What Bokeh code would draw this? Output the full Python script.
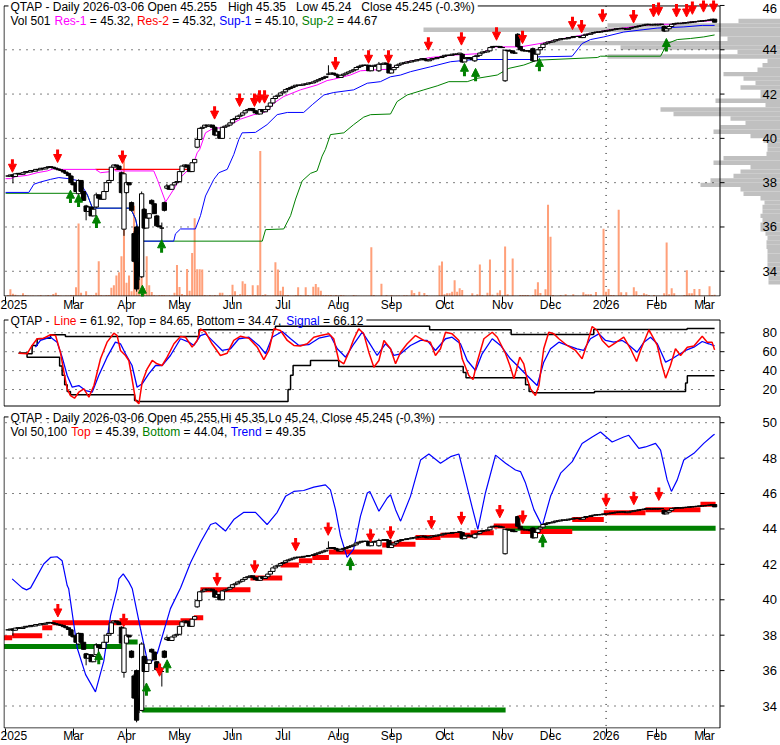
from bokeh.plotting import figure
from bokeh.layouts import column
from bokeh.models import Range1d, FixedTicker, Arrow, NormalHead, ColumnDataSource
from bokeh.core.properties import value
from bokeh.embed import file_html
from bokeh.resources import INLINE

# ======================= DATA =======================
# x = trading-day index, day 0 = first session of March 2025
FIRST_DAY = -26

close = [
    38.30, 38.35, 38.28, 38.40, 38.42, 38.38, 38.45, 38.50, 38.48, 38.55,
    38.52, 38.60, 38.58, 38.65, 38.62, 38.68, 38.72, 38.70, 38.66, 38.62,
    38.58, 38.55, 38.48, 38.42, 38.32, 38.00, 37.90, 37.60, 38.10, 37.60,
    37.20, 36.70, 36.90, 36.50, 36.80, 37.45, 37.30, 37.25, 37.60, 38.00,
    38.10, 38.70, 38.80, 38.75, 38.60, 37.55, 38.40, 38.00, 37.90, 36.75,
    34.45, 33.20, 33.80, 37.50, 35.95, 36.40, 36.60, 37.05, 36.60, 36.05,
    36.00, 35.95, 36.75, 37.85, 37.70, 37.90, 38.00, 38.05, 38.50, 38.75,
    38.80, 38.70, 38.50, 38.90, 39.05, 39.95, 40.45, 40.50, 40.60, 40.55,
    40.60, 40.50, 40.15, 40.30, 40.00, 40.50, 40.55, 40.60, 40.70, 40.85,
    40.90, 41.00, 41.05, 41.15, 41.25, 41.30, 41.35, 41.25, 41.15, 41.10,
    41.30, 41.20, 41.30, 41.45, 41.60, 41.80, 41.90, 41.95, 42.05, 42.10,
    42.20, 42.25, 42.30, 42.35, 42.40, 42.40, 42.40, 42.45, 42.45, 42.50,
    42.50, 42.55, 42.60, 42.65, 42.70, 42.75, 42.80, 42.90, 42.95, 42.90,
    42.85, 42.75, 42.85, 42.90, 42.95, 43.00, 43.05, 43.10, 43.20, 43.25,
    43.30, 43.30, 43.30, 43.05, 43.25, 43.30, 43.30, 43.35, 43.35, 43.40,
    43.35, 42.95, 43.10, 43.20, 43.30, 43.35, 43.40, 43.40, 43.45, 43.45,
    43.50, 43.50, 43.55, 43.55, 43.60, 43.55, 43.50, 43.55, 43.60, 43.60,
    43.65, 43.65, 43.70, 43.75, 43.75, 43.75, 43.80, 43.80, 43.80, 43.85,
    43.45, 43.60, 43.65, 43.60, 43.55, 43.70, 43.75, 43.85, 43.90, 43.90,
    43.95, 44.10, 44.15, 44.15, 44.15, 44.10, 44.10, 43.98, 43.95, 43.95,
    43.85, 43.85, 44.15, 44.00, 43.95, 43.95, 43.95, 43.90, 43.50, 43.80,
    44.00, 44.10, 44.25, 44.30, 44.35, 44.35, 44.40, 44.45, 44.45, 44.50,
    44.50, 44.50, 44.55, 44.55, 44.60, 44.60, 44.60, 44.55, 44.65, 44.70,
    44.70, 44.75, 44.78, 44.80, 44.80, 44.82, 44.85, 44.85, 44.88, 44.90,
    44.92, 44.95, 44.95, 44.97, 44.95, 44.92, 44.97, 45.00, 45.02, 45.05,
    45.08, 45.10, 45.12, 45.15, 45.13, 45.12, 45.15, 45.12, 45.15, 45.15,
    44.85, 44.95, 45.05, 45.15, 45.18, 45.20, 45.18, 45.20, 45.22, 45.22,
    45.25, 45.25, 45.27, 45.28, 45.30, 45.30, 45.32, 45.33, 45.35, 45.38,
    45.245,
]

# candles whose open / high / low differ visibly: (day, open, high, low)
candle_fix = [
    (-24, 38.35, 38.40, 37.97), (-1, 38.30, 38.35, 37.90), (2, 37.50, 38.15, 37.45),
    (5, 36.95, 37.00, 36.30), (9, 36.90, 37.55, 36.85), (19, 38.45, 38.50, 37.50),
    (20, 35.90, 38.45, 35.60), (21, 37.55, 38.05, 37.50), (23, 37.10, 37.15, 36.70),
    (24, 35.70, 35.80, 34.40), (25, 36.00, 36.06, 33.08), (26, 34.40, 34.60, 33.60),
    (27, 33.75, 37.60, 33.70), (28, 36.80, 36.85, 35.90), (31, 37.20, 37.25, 37.00),
    (33, 36.50, 36.55, 36.00), (35, 35.95, 36.20, 35.10), (36, 37.10, 37.15, 36.70),
    (37, 37.75, 37.95, 37.70), (49, 39.60, 40.05, 39.55), (56, 40.50, 40.55, 40.10),
    (101, 42.90, 43.30, 42.85), (121, 43.05, 43.45, 43.00), (154, 43.80, 43.85, 43.40),
    (159, 43.50, 43.75, 43.45), (171, 42.60, 44.00, 42.55), (176, 44.70, 44.75, 44.10),
    (182, 44.05, 44.10, 43.45), (234, 45.05, 45.10, 44.80),
]

# daily volume, hundreds of shares
volume = [
    400, 2700, 900, 500, 200, 200, 1100, 400, 200, 200,
    200, 120, 200, 400, 120, 200, 400, 200, 800, 1300,
    400, 200, 120, 200, 200, 400, 400, 3500, 29200, 1300,
    200, 1900, 400, 400, 400, 1300, 14000, 400, 200, 400,
    400, 3300, 4300, 8300, 9600, 16000, 56300, 5300, 8300, 1900,
    36300, 28000, 6900, 12000, 3200, 16000, 4300, 1600, 400, 200,
    400, 400, 400, 200, 300, 200, 1300, 12500, 3600, 800,
    400, 10900, 2100, 17300, 31300, 10800, 10800, 10700, 400, 200,
    400, 200, 400, 200, 1300, 1300, 200, 200, 400, 4500,
    1900, 400, 700, 5900, 4900, 400, 400, 4300, 400, 4300,
    58400, 400, 700, 200, 200, 200, 13600, 10700, 2100, 3700,
    400, 400, 200, 200, 400, 3500, 400, 200, 3500, 400,
    200, 3700, 4800, 3500, 2100, 400, 400, 400, 400, 200,
    400, 200, 400, 300, 120, 120, 120, 400, 200, 120,
    120, 120, 120, 120, 19600, 400, 120, 120, 4900, 120,
    400, 120, 400, 120, 200, 200, 120, 300, 300, 120,
    2300, 1200, 120, 1700, 120, 1200, 400, 120, 120, 120,
    120, 12300, 13900, 700, 1100, 1100, 1700, 6300, 1700, 3100,
    2400, 120, 120, 120, 1100, 120, 700, 12700, 400, 120,
    1300, 14700, 500, 120, 1300, 2300, 120, 19900, 700, 120,
    15100, 120, 120, 400, 400, 400, 400, 120, 400, 2700,
    5500, 1200, 120, 2700, 36700, 23900, 400, 120, 120, 400,
    120, 700, 120, 120, 700, 120, 120, 120, 1500, 700,
    700, 700, 120, 1600, 120, 120, 27100, 1700, 2800, 400,
    400, 120, 34700, 1500, 400, 1500, 120, 120, 3500, 1900,
    400, 400, 1100, 700, 400, 120, 400, 120, 120, 120,
    1100, 21500, 700, 3100, 1100, 120, 120, 120, 400, 10400,
    1100, 1100, 2800, 120, 2800, 120, 120, 120, 3900, 400,
    501,
]

month_ticks = [-27, 0, 21, 42, 63, 83, 105, 126, 147, 170, 189, 211, 231, 250]
month_labels = ["2025", "Mar", "Apr", "May", "Jun", "Jul", "Aug", "Sep", "Oct",
                "Nov", "Dec", "2026", "Feb", "Mar"]
year_break = 211

price_levels_1 = [46, 44, 42, 40, 38, 36, 34]
stoch_levels = [80, 60, 40, 20]
price_levels_3 = [50, 48, 46, 44, 42, 40, 38, 36, 34]

# ---- panel 1 support / resistance (day, price)
res1 = [(-26.9, 38.18), (-25.0, 38.18), (-23.0, 38.27), (-18.3, 38.33), (-14.4, 38.45),
        (-10.4, 38.53), (-7.8, 38.63), (-5.8, 38.60), (8.7, 38.60), (10.7, 38.45),
        (14.7, 38.50), (16.0, 38.63), (16.6, 38.53), (31.8, 38.53), (33.2, 38.15),
        (36.5, 37.13), (39.7, 37.70), (42.4, 38.23), (45.0, 38.53), (47.0, 38.68),
        (49.0, 39.35), (50.0, 39.50), (52.3, 40.25), (55.6, 40.47), (58.2, 40.47),
        (62.2, 40.62), (66.2, 40.87), (71.4, 41.07), (76.7, 41.22), (79.4, 41.59),
        (83.3, 41.89), (89.9, 42.19), (96.5, 42.41), (100.5, 42.61), (103.1, 42.67),
        (109.7, 42.86), (113.7, 43.05), (119.0, 43.09), (124.9, 43.12), (132.2, 43.46),
        (141.4, 43.65), (150.7, 43.76), (161.3, 43.83), (165.2, 44.06), (166.5, 44.13),
        (177.1, 44.13), (186.3, 44.31), (194.3, 44.51), (204.8, 44.73), (212.8, 44.91),
        (226.0, 45.10), (231.3, 45.15), (237.8, 45.15), (244.5, 45.25), (254.0, 45.32)]
res2 = [(8.7, 45.5, 38.60)]
sup1 = [(-26.9, 37.56), (-17.7, 37.56), (-15.7, 37.93), (-13.1, 38.03), (-9.1, 38.15),
        (-5.8, 38.23), (-1.9, 38.18), (1.5, 38.10), (3.4, 37.85), (5.4, 37.48),
        (7.4, 36.88), (8.7, 36.85), (22.6, 36.85), (23.2, 36.70), (24.6, 36.36),
        (25.9, 35.69), (27.2, 35.36), (39.7, 35.36), (40.4, 35.69), (42.4, 35.91),
        (48.3, 35.91), (50.3, 36.51), (52.3, 37.40), (55.6, 38.15), (57.6, 38.45),
        (60.9, 38.60), (63.5, 39.27), (65.5, 39.95), (66.8, 40.25), (72.1, 40.27),
        (76.7, 40.62), (80.7, 41.07), (84.7, 41.17), (91.2, 41.17), (94.6, 41.52),
        (99.2, 41.96), (103.1, 42.07), (111.0, 42.19), (116.4, 42.49), (121.6, 42.56),
        (125.6, 42.78), (129.6, 42.86), (133.5, 43.01), (141.4, 43.23), (149.4, 43.46),
        (158.6, 43.56), (182.4, 43.56), (183.7, 43.68), (197.6, 43.71), (201.5, 44.28),
        (204.8, 44.46), (210.1, 44.58), (218.0, 44.80), (226.0, 44.91), (231.3, 44.98),
        (235.2, 45.00), (241.8, 45.03), (249.1, 45.10), (254.0, 45.10)]
sup2 = [(-26.9, 37.52), (4.5, 37.52), (5.4, 37.48), (7.4, 36.88), (8.7, 36.85),
        (22.6, 36.85), (23.2, 36.70), (24.6, 36.36), (25.9, 35.69), (27.2, 35.36),
        (74.8, 35.36), (76.1, 35.88), (83.3, 35.91), (86.0, 36.51), (88.0, 37.26),
        (90.6, 38.08), (93.9, 38.42), (96.5, 38.53), (98.5, 39.20), (99.8, 39.50),
        (101.8, 40.17), (107.1, 40.25), (111.0, 40.62), (115.0, 40.96), (117.7, 41.07),
        (125.6, 41.10), (128.2, 41.66), (132.2, 41.96), (138.8, 42.19), (144.1, 42.37),
        (148.7, 42.56), (156.0, 42.56), (159.9, 42.71), (167.9, 42.86), (172.5, 43.16),
        (178.4, 43.31), (183.7, 43.53), (207.5, 43.65), (208.8, 43.71), (232.6, 43.71),
        (235.2, 44.28), (239.2, 44.46), (244.5, 44.51), (249.7, 44.58), (254.0, 44.67)]
top_down_arrows = [(-24.2, 38.47), (-6.3, 38.91), (19.4, 38.87), (55.9, 40.87), (65.8, 41.44),
                   (71.7, 41.44), (73.7, 41.59), (75.7, 41.59), (103.8, 43.09), (116.9, 43.39),
                   (124.8, 43.39), (140.6, 43.98), (153.7, 44.21), (167.6, 44.43), (177.9, 44.28),
                   (197.7, 44.91), (201.3, 44.76), (209.6, 45.25), (221.9, 45.21), (229.8, 45.48),
                   (231.8, 45.55), (238.9, 45.48), (242.9, 45.48), (245.2, 45.60), (249.6, 45.70),
                   (253.6, 45.70)]
top_up_arrows = [(-1.2, 37.66), (2.0, 37.48), (9.1, 36.54), (27.3, 33.37), (34.9, 35.42),
                 (154.9, 43.39), (159.3, 43.16), (184.6, 43.61), (234.9, 44.51)]

# volume at price (bin centre, relative volume)
vbp_price = [33.5, 33.7, 33.9, 34.1, 34.3, 34.5, 34.7, 34.9, 35.1, 35.3,
             35.5, 35.7, 35.9, 36.1, 36.3, 36.5, 36.7, 36.9, 37.1, 37.3,
             37.5, 37.7, 37.9, 38.1, 38.3, 38.5, 38.7, 38.9, 39.1, 39.3,
             39.5, 39.7, 39.9, 40.1, 40.3, 40.5, 40.7, 40.9, 41.1, 41.3,
             41.5, 41.7, 41.9, 42.1, 42.3, 42.5, 42.7, 42.9, 43.1, 43.3,
             43.5, 43.7, 43.9, 44.1, 44.3, 44.5, 44.7, 44.9, 45.1, 45.3]
vbp_volume = [12, 12, 12, 13, 13, 13, 13, 13, 14, 14,
              13, 15, 20, 20, 18, 20, 18, 18, 16, 20,
              37, 40, 80, 70, 47, 40, 30, 67, 57, 14,
              13, 13, 17, 30, 67, 60, 35, 50, 107, 120,
              15, 65, 20, 20, 40, 25, 37, 57, 23, 18,
              13, 173, 43, 160, 232, 53, 60, 357, 173, 42]

# ---- panel 2 stochastic (day, value)
stoch_line = [(-21.7, 58.4), (-18.4, 57.8), (-16.4, 66.6), (-14.4, 73.7), (-11.8, 74.3),
              (-9.1, 77.9), (-7.1, 77.1), (-5.2, 59.5), (-3.8, 38.3), (-2.5, 20.7),
              (-1.2, 13.6), (0.4, 10.8), (2.1, 17.1), (4.1, 20.7), (6.1, 11.9),
              (8.1, 24.2), (10.7, 52.5), (13.3, 70.1), (16.0, 79.6), (17.3, 77.1),
              (18.6, 61.3), (20.6, 56.0), (21.9, 50.7), (23.2, 31.3), (24.6, 8.4),
              (25.9, 4.9), (27.2, 27.7), (29.2, 41.9), (31.2, 50.7), (33.1, 47.2),
              (35.1, 45.4), (37.1, 54.2), (39.8, 68.4), (42.4, 76.1), (44.4, 75.3),
              (47.0, 64.8), (49.0, 71.9), (50.3, 84.2), (52.3, 80.6), (54.9, 68.4),
              (58.2, 56.0), (60.9, 58.4), (63.5, 71.9), (66.2, 76.4), (69.5, 74.3),
              (72.8, 64.8), (75.4, 51.7), (77.4, 61.3), (79.4, 84.2), (82.0, 82.4),
              (84.7, 71.9), (87.3, 66.6), (89.9, 66.0), (92.6, 68.4), (95.2, 75.3),
              (97.9, 77.1), (101.2, 78.9), (103.1, 73.7), (105.1, 50.7), (107.1, 47.2),
              (109.1, 59.5), (111.1, 73.7), (113.0, 84.2), (115.0, 78.9), (117.0, 59.5),
              (119.0, 43.6), (121.0, 50.7), (123.0, 71.9), (125.6, 63.1), (127.6, 47.2),
              (129.6, 59.5), (132.2, 68.4), (135.5, 77.1), (138.8, 71.9), (141.4, 70.1),
              (143.4, 56.0), (145.4, 63.1), (147.4, 80.6), (150.0, 78.9), (152.7, 71.9),
              (154.0, 52.5), (156.6, 34.8), (158.3, 30.6), (159.9, 48.9), (162.6, 73.7),
              (165.9, 80.6), (167.9, 75.3), (171.2, 57.8), (172.9, 45.4), (174.5, 31.3),
              (176.8, 54.2), (178.4, 47.2), (179.7, 31.3), (181.1, 20.7), (183.0, 13.6),
              (184.4, 24.2), (186.3, 63.1), (188.3, 80.6), (190.3, 78.9), (192.3, 73.7),
              (195.6, 66.6), (198.9, 61.3), (201.5, 52.5), (203.5, 68.4), (205.5, 86.7),
              (207.5, 82.4), (209.5, 71.9), (212.1, 64.8), (214.7, 69.4), (218.0, 75.3),
              (220.7, 63.1), (223.1, 49.6), (224.6, 61.3), (228.0, 83.2), (231.3, 66.6),
              (232.8, 48.9), (234.6, 32.0), (236.5, 45.4), (238.5, 63.1), (240.5, 56.0),
              (243.2, 64.8), (245.8, 66.0), (249.1, 76.4), (251.1, 70.1), (253.0, 70.1),
              (254.0, 61.92)]
stoch_signal = [(-15.1, 64.8), (-13.1, 71.9), (-9.1, 75.3), (-6.5, 70.1), (-4.5, 54.2),
                (-2.5, 34.8), (-0.5, 22.4), (2.1, 24.2), (4.8, 18.9), (7.4, 17.1),
                (10.0, 34.8), (13.3, 54.2), (16.6, 70.1), (18.6, 68.4), (20.6, 57.8),
                (23.2, 45.4), (25.2, 22.4), (27.2, 26.0), (29.8, 36.6), (32.5, 45.4),
                (35.1, 45.4), (38.4, 56.0), (42.4, 73.7), (45.7, 70.1), (47.7, 66.6),
                (50.3, 77.1), (52.3, 78.9), (55.6, 70.1), (58.9, 61.3), (62.2, 63.1),
                (65.5, 73.7), (69.5, 75.3), (73.4, 66.6), (76.1, 57.8), (78.7, 75.3),
                (82.7, 81.4), (86.0, 73.7), (89.3, 66.6), (93.2, 67.4), (97.2, 74.3),
                (101.8, 77.1), (104.5, 63.1), (107.8, 54.2), (111.1, 68.4), (114.4, 80.6),
                (117.0, 70.1), (120.3, 56.0), (123.6, 68.4), (125.6, 63.1), (126.9, 56.0),
                (129.6, 57.8), (133.5, 66.6), (137.5, 71.9), (140.1, 71.9), (143.4, 61.3),
                (147.4, 73.7), (150.0, 75.3), (153.3, 68.4), (156.0, 50.7), (159.3, 40.1),
                (161.9, 57.8), (165.9, 73.7), (169.2, 66.6), (173.1, 52.5), (175.8, 45.4),
                (178.4, 38.3), (181.7, 29.5), (183.7, 24.2), (186.3, 48.9), (189.0, 63.1),
                (192.3, 70.1), (195.6, 66.6), (199.5, 63.1), (202.1, 61.3), (204.8, 73.7),
                (208.1, 78.9), (210.8, 71.9), (214.1, 70.1), (217.4, 71.9), (219.4, 68.4),
                (223.3, 59.5), (226.0, 70.1), (228.6, 75.3), (231.3, 68.4), (234.6, 48.9),
                (237.2, 52.5), (239.2, 56.0), (242.5, 61.3), (245.8, 64.8), (249.1, 70.8),
                (251.7, 68.4), (254.0, 66.12)]
stoch_top = [(-21.7, 58.4), (-18.4, 57.8), (-16.4, 66.6), (-14.4, 73.7), (-11.8, 74.3),
             (-9.1, 77.9), (-3.2, 76.1), (49.7, 83.2), (80.0, 87.0), (141.1, 83.2),
             (173.4, 78.2), (206.1, 83.5), (243.1, 84.65), (254.0, 84.65)]
stoch_bottom = [(-21.7, 58.4), (-18.4, 54.2), (-5.5, 45.0), (-4.5, 35.0), (-3.5, 25.0),
                (-2.5, 18.0), (-1.2, 14.4), (24.2, 8.4), (25.2, 7.3), (85.0, 20.0),
                (86.0, 35.0), (87.0, 45.4), (93.9, 50.7), (105.1, 44.3), (154.4, 38.0),
                (155.5, 32.4), (179.1, 25.0), (180.5, 18.0), (182.0, 16.5), (206.4, 17.9),
                (242.5, 27.0), (243.2, 34.47), (254.0, 34.47)]

# ---- panel 3 trend line and top/bottom bands
trend = [(-24.3, 41.18), (-20.3, 40.67), (-18.6, 40.56), (-17.0, 40.67), (-11.8, 42.02),
         (-9.1, 42.39), (-6.5, 42.43), (-4.5, 42.20), (-2.5, 40.80), (-1.9, 40.62),
         (1.5, 37.26), (4.8, 35.77), (8.7, 34.80), (12.0, 36.53), (14.7, 39.12),
         (17.3, 40.62), (18.0, 41.18), (19.7, 41.46), (21.9, 41.01), (23.3, 40.62),
         (26.5, 38.38), (29.2, 36.61), (30.5, 36.42), (33.2, 36.98), (38.4, 39.50),
         (42.4, 40.67), (46.4, 42.11), (50.3, 43.23), (54.3, 44.25), (56.3, 44.35),
         (60.2, 43.88), (63.5, 44.53), (67.5, 44.94), (72.1, 44.94), (76.7, 44.25),
         (80.7, 44.94), (84.0, 45.84), (87.3, 46.12), (91.2, 46.17), (95.2, 46.36),
         (99.8, 46.49), (101.8, 46.21), (103.8, 45.09), (105.8, 43.60), (108.4, 42.39),
         (111.0, 42.86), (113.7, 44.72), (116.4, 46.03), (117.4, 46.12), (121.0, 45.00),
         (124.3, 45.75), (125.6, 45.93), (127.6, 45.09), (129.6, 44.44), (133.5, 45.84),
         (137.5, 47.89), (140.8, 48.23), (145.4, 47.71), (149.4, 48.08), (152.7, 48.23),
         (154.6, 47.15), (158.0, 45.19), (160.2, 43.97), (163.2, 46.03), (167.2, 48.17),
         (171.2, 47.71), (175.1, 47.33), (177.1, 47.24), (179.1, 46.59), (182.4, 45.09),
         (185.7, 44.16), (189.0, 45.84), (193.0, 47.15), (197.6, 47.80), (201.5, 48.83),
         (205.5, 49.19), (208.8, 49.47), (213.4, 48.91), (218.0, 49.19), (220.0, 49.29),
         (224.0, 48.55), (226.6, 48.63), (230.6, 48.83), (232.6, 48.45), (235.2, 46.77),
         (236.9, 46.12), (239.2, 46.77), (241.8, 47.89), (245.8, 48.27), (249.7, 48.83),
         (253.4, 49.29), (254.0, 49.35)]
band_top = [(-27.5, -24.3, 37.86), (-24.3, -12.4, 37.97), (-12.4, -8.4, 38.42),
            (-8.4, 42.4, 38.70), (42.4, 47.7, 38.81), (47.7, 51.4, 38.98),
            (50.3, 70.1, 40.56), (70.1, 82.7, 41.23), (82.0, 89.3, 41.96),
            (89.3, 94.6, 42.20), (94.6, 101.2, 42.39), (101.2, 122.3, 42.70),
            (122.3, 125.6, 43.10), (125.6, 135.5, 43.14), (135.5, 145.4, 43.51),
            (145.4, 157.3, 43.64), (157.3, 166.5, 43.79), (166.5, 177.1, 44.16),
            (177.1, 197.6, 43.85), (197.6, 210.1, 44.53), (210.1, 226.6, 44.91),
            (226.6, 248.4, 45.09), (248.4, 254.4, 45.39)]
band_bottom = [(-27.5, 19.4, 37.36), (19.4, 25.4, 37.62), (27.2, 171.2, 33.78),
               (171.2, 254.4, 44.04)]
low_down_arrows = [(-6.2, 39.03), (19.9, 38.48), (34.1, 35.68), (56.9, 40.80), (71.8, 41.51),
                   (88.0, 42.76), (100.9, 43.64), (117.7, 43.26), (125.6, 43.42), (141.8, 44.01),
                   (153.7, 44.25), (168.9, 44.63), (178.0, 44.31), (211.0, 45.28), (222.0, 45.37),
                   (231.9, 45.61)]
low_up_arrows = [(10.0, 37.08), (28.9, 35.30), (37.1, 36.61), (109.7, 42.39), (185.9, 43.70)]

# ---- titles
K, MAG, RED, BLUE, GREEN = "black", "#FF00FF", "#FF0000", "#0000FF", "#008000"
title1a = [("QTAP - Daily 2026-03-06 Open 45.255", K), ("   High 45.35", K),
           ("   Low 45.24", K), ("   Close 45.245 (-0.3%)", K)]
title1b = [("Vol 501 ", K), ("Res-1", MAG), (" = 45.32, ", K), ("Res-2", RED),
           (" = 45.32, ", K), ("Sup-1", BLUE), (" = 45.10, ", K), ("Sup-2", GREEN),
           (" = 44.67", K)]
title2 = [("QTAP - ", K), ("Line", RED), (" = 61.92, Top = 84.65, Bottom = 34.47, ", K),
          ("Signal", BLUE), (" = 66.12", K)]
title3a = [("QTAP - Daily 2026-03-06 Open 45.255,Hi 45.35,Lo 45.24, Close 45.245 (-0.3%)", K)]
title3b = [("Vol 50,100 ", K), ("Top", RED), (" = 45.39, ", K), ("Bottom", GREEN),
           (" = 44.04, ", K), ("Trend", BLUE), (" = 49.35", K)]

# ======================= LAYOUT / STYLE =======================
SALMON, GRAY = "#FFA07A", "#C0C0C0"
FONT_NAME = "Liberation Sans"
FONT = value(FONT_NAME)
W = 780
PPD = 2.524          # px per trading day
X0 = 73.0            # x of day 0 inside the figure
LEFT = 3


def dx(px):
    return (px - X0) / PPD


def lin(v_ref, py_ref, ppu):
    return lambda py: v_ref - (py - py_ref) / ppu


vy1 = lin(46.0, 5.0, 22.3)
vy2 = lin(80.0, 332.3, 0.945)
vy3 = lin(50.0, 422.3, 17.875)

CW = {' ': 278, '!': 278, '(': 333, ')': 333, ',': 278, '-': 333, '.': 278, '%': 889,
      '=': 584, ':': 278, 'A': 667, 'B': 667, 'C': 722, 'D': 722, 'E': 667, 'F': 611,
      'G': 778, 'H': 722, 'I': 278, 'L': 556, 'M': 833, 'N': 722, 'O': 778, 'P': 667,
      'Q': 778, 'R': 722, 'S': 667, 'T': 611, 'V': 667, 'a': 556, 'b': 556, 'c': 500,
      'd': 556, 'e': 556, 'g': 556, 'h': 556, 'i': 222, 'l': 222, 'm': 833, 'n': 556,
      'o': 556, 'p': 556, 'r': 333, 's': 500, 't': 278, 'u': 556, 'v': 500, 'w': 722,
      'y': 500}


def tw(s, size):
    return sum(CW.get(ch, 556) for ch in s) * size / 1000.0


XR = Range1d(dx(LEFT), dx(W))

days = list(range(FIRST_DAY, FIRST_DAY + len(close)))
opens = [close[0]] + close[:-1]
highs = [max(o, c) for o, c in zip(opens, close)]
lows = [min(o, c) for o, c in zip(opens, close)]
for d, o, h, l in candle_fix:
    i = d - FIRST_DAY
    opens[i] = o
    highs[i] = max(h, o, close[i])
    lows[i] = min(l, o, close[i])
candles = ColumnDataSource(dict(
    x=days, hi=highs, lo=lows,
    top=[max(o, c) for o, c in zip(opens, close)],
    bot=[min(o, c) for o, c in zip(opens, close)],
    fill=["white" if c >= o else "black" for o, c in zip(opens, close)]))


def base_fig(height, bottom, y_range, with_axis):
    p = figure(width=W, height=height, x_range=XR, y_range=y_range,
               output_backend="svg", toolbar_location=None,
               x_axis_location="below" if with_axis else None, y_axis_location=None,
               min_border_left=LEFT, min_border_right=0, min_border_top=0,
               min_border_bottom=bottom)
    p.outline_line_color = None
    p.background_fill_color = "white"
    p.border_fill_color = "white"
    p.grid.visible = False
    if with_axis:
        ax = p.xaxis[0]
        ax.ticker = FixedTicker(ticks=month_ticks)
        ax.major_label_overrides = {t: lab for t, lab in zip(month_ticks, month_labels)}
        ax.axis_line_color = None
        ax.major_tick_line_color = "black"
        ax.major_tick_out = 8
        ax.major_tick_in = 0
        ax.minor_tick_line_color = None
        ax.major_label_text_align = "left"
        ax.major_label_text_font = FONT_NAME
        ax.major_label_text_font_size = "12px"
        ax.major_label_text_color = "black"
    return p


def put_line(p, pieces, x_px, y_val, size=12):
    xs, ys, ts, cs = [], [], [], []
    cur = x_px
    end = x_px
    for s, col in pieces:
        core = s.strip(" ")
        lead = len(s) - len(s.lstrip(" "))
        if core:
            start = cur + tw(" " * lead, size)
            xs.append(dx(start))
            ys.append(y_val)
            ts.append(core)
            cs.append(col)
            end = start + tw(core, size)
        cur += tw(s, size)
    p.text(x=xs, y=ys, text=ts, text_color=cs, text_font=FONT,
           text_font_size="%dpx" % size, text_align="left", text_baseline="middle")
    return end


def frame_box(p, vy, top_py, bot_py, title_end):
    xl, xr = dx(LEFT + 0.5), dx(719.5)
    yt, yb = vy(top_py), vy(bot_py)
    p.segment(x0=[xl, xl, dx(title_end + 3), xr, xl],
              y0=[yt, yb, yt, yt, yt],
              x1=[dx(8), xr, xr, xr, xl],
              y1=[yt, yb, yt, yb, yb], line_color="black", line_width=1)


def right_labels(p, levels, label_y=None):
    p.segment(x0=[dx(719.5)] * len(levels), x1=[dx(724)] * len(levels),
              y0=levels, y1=levels, line_color="black", line_width=1)
    ys = label_y if label_y is not None else levels
    p.text(x=[dx(762)] * len(levels), y=ys, text=[str(v) for v in levels],
           text_font=FONT, text_font_size="13px", text_color="black",
           text_align="left", text_baseline="middle")


def dotted_grid(p, levels, vy=None, top_py=None, bot_py=None, vline=False):
    p.segment(x0=[dx(5)] * len(levels), x1=[dx(718)] * len(levels), y0=levels, y1=levels,
              line_color="black", line_width=1, line_dash="1 6")
    if vline:
        p.segment(x0=[year_break], x1=[year_break], y0=[vy(top_py)], y1=[vy(bot_py)],
                  line_color="black", line_width=1, line_dash="1 6")


def draw_candles(p):
    p.segment(x0="x", y0="lo", x1="x", y1="hi", source=candles, line_color="black",
              line_width=1)
    p.vbar(x="x", width=1.7, top="top", bottom="bot", source=candles, fill_color="fill",
           line_color="black", line_width=1)


def arrows(p, pts, up, color, ppu):
    L = 13.0 / ppu
    xs = [a for a, _ in pts]
    tips = [b for _, b in pts]
    starts = [t - L if up else t + L for t in tips]
    src = ColumnDataSource(dict(x=xs, y0=starts, y1=tips))
    p.add_layout(Arrow(source=src, x_start="x", y_start="y0", x_end="x", y_end="y1",
                       line_color=color, line_width=3,
                       end=NormalHead(size=8, fill_color=color, line_color=color,
                                      line_width=1)))


def xs_of(pairs):
    return [a for a, _ in pairs]


def ys_of(pairs):
    return [b for _, b in pairs]


# ---------------- panel 1 ----------------
p1 = base_fig(314, 16, Range1d(vy1(298), vy1(0)), True)
p1.xaxis[0].major_label_standoff = -7
p1.extra_y_ranges = {"vol": Range1d(-200, -200 + 298 * 400)}
p1.extra_x_ranges = {"vbp": Range1d(W - LEFT, 0)}
p1.hbar(y=vbp_price, height=0.2, left=0, right=vbp_volume, x_range_name="vbp",
        fill_color=GRAY, line_color=None)
dotted_grid(p1, price_levels_1[1:], vy1, 5.5, 297.5, True)
p1.vbar(x=days, top=volume, bottom=0, width=0.8, y_range_name="vol",
        fill_color=SALMON, line_color=None)
p1.line(xs_of(sup2), ys_of(sup2), line_color=GREEN, line_width=1)
p1.line(xs_of(sup1), ys_of(sup1), line_color=BLUE, line_width=1)
p1.segment(x0=[a for a, _, _ in res2], x1=[b for _, b, _ in res2],
           y0=[c for _, _, c in res2], y1=[c for _, _, c in res2], line_color=RED, line_width=1.3)
p1.line(xs_of(res1), ys_of(res1), line_color=MAG, line_width=1)
draw_candles(p1)
arrows(p1, top_down_arrows, False, RED, 22.3)
arrows(p1, top_up_arrows, True, GREEN, 22.3)
end1 = put_line(p1, title1a, 10, vy1(6.5))
put_line(p1, title1b, 10, vy1(20.5))
frame_box(p1, vy1, 5.5, 297.5, end1)
right_labels(p1, price_levels_1,
             [vy1(8.0)] + price_levels_1[1:])

# ---------------- panel 2 ----------------
p2 = base_fig(97, 0, Range1d(vy2(411), vy2(314)), False)
dotted_grid(p2, stoch_levels)
p2.step(xs_of(stoch_top), ys_of(stoch_top), mode="after", line_color="black", line_width=1.5)
p2.step(xs_of(stoch_bottom), ys_of(stoch_bottom), mode="after", line_color="black",
        line_width=1.5)
p2.line(xs_of(stoch_signal), ys_of(stoch_signal), line_color=BLUE, line_width=1.3)
p2.line(xs_of(stoch_line), ys_of(stoch_line), line_color=RED, line_width=1.5)
end2 = put_line(p2, title2, 10, vy2(320.5))
frame_box(p2, vy2, 319.5, 405.5, end2)
right_labels(p2, stoch_levels)

# ---------------- panel 3 ----------------
p3 = base_fig(334, 14, Range1d(vy3(731), vy3(411)), True)
p3.xaxis[0].major_label_standoff = -8
dotted_grid(p3, price_levels_3, vy3, 416.5, 730.5, True)
p3.segment(x0=[a for a, _, _ in band_bottom], x1=[b for _, b, _ in band_bottom],
           y0=[c for _, _, c in band_bottom], y1=[c for _, _, c in band_bottom],
           line_color=GREEN, line_width=5)
p3.segment(x0=[a for a, _, _ in band_top], x1=[b for _, b, _ in band_top],
           y0=[c for _, _, c in band_top], y1=[c for _, _, c in band_top],
           line_color=RED, line_width=5)
p3.line(xs_of(trend), ys_of(trend), line_color=BLUE, line_width=1.2)
draw_candles(p3)
arrows(p3, low_down_arrows, False, RED, 17.875)
arrows(p3, low_up_arrows, True, GREEN, 17.875)
end3 = put_line(p3, title3a, 10, vy3(417.5))
put_line(p3, title3b, 10, vy3(431.7))
frame_box(p3, vy3, 416.5, 730.5, end3)
right_labels(p3, price_levels_3)

layout = column(p1, p2, p3, spacing=0)
html = file_html(layout, INLINE, title="QTAP")
open("out.html", "w").write(html)
